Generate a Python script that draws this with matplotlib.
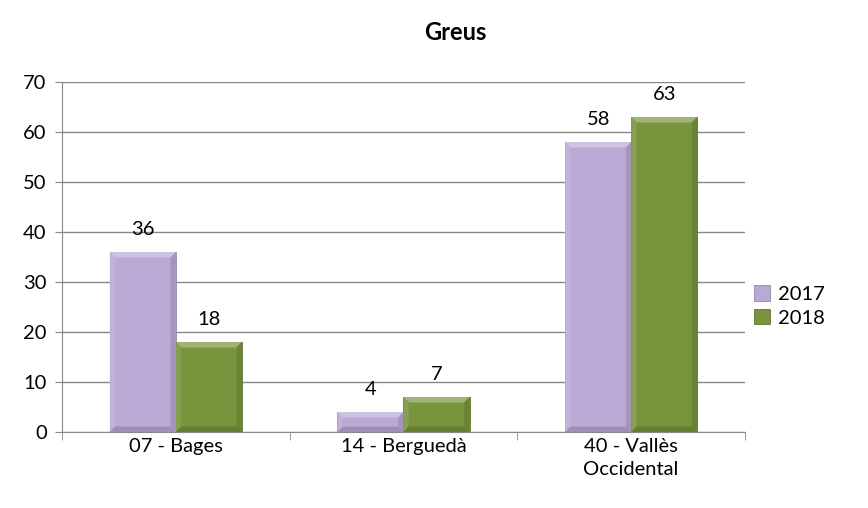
import numpy as np
import matplotlib.pyplot as plt
from matplotlib.patches import Polygon
from matplotlib.colors import to_rgb

categories = ["07 - Bages", "14 - Berguedà", "40 - Vallès\nOccidental"]
years = ["2017", "2018"]
vals_2017 = [36, 4, 58]
vals_2018 = [18, 7, 63]

colors = ["#baa9d5", "#78943c"]

plt.rcParams['font.family'] = ['Lato', 'DejaVu Sans']


def shade(c, f):
    r = np.array(to_rgb(c))
    if f > 0:
        return tuple(r + (1 - r) * f)
    return tuple(r * (1 + f))


def bevel(ax, bar, col):
    # light top / left, dark bottom / right edges like the office bevel look
    x0, y0 = bar.get_x(), bar.get_y()
    w, h = bar.get_width(), bar.get_height()
    x1, y1 = x0 + w, y0 + h
    dx = w * 0.08
    dy = min(1.1, h * 0.3)
    pieces = [
        ([(x0, y1), (x1, y1), (x1 - dx, y1 - dy), (x0 + dx, y1 - dy)], shade(col, 0.3)),
        ([(x0, y0), (x0, y1), (x0 + dx, y1 - dy), (x0 + dx, y0 + dy)], shade(col, 0.1)),
        ([(x1, y0), (x1, y1), (x1 - dx, y1 - dy), (x1 - dx, y0 + dy)], shade(col, -0.12)),
        ([(x0, y0), (x1, y0), (x1 - dx, y0 + dy), (x0 + dx, y0 + dy)], shade(col, -0.15)),
    ]
    for pts, c in pieces:
        ax.add_patch(Polygon(pts, closed=True, facecolor=c, edgecolor='none', zorder=3))


fig = plt.figure(figsize=(8.68, 5.08), dpi=100)
ax = fig.add_axes([62 / 868, 1 - 432 / 508, (745 - 62) / 868, (432 - 82) / 508])

x = np.arange(len(categories))
w = 0.29
b1 = ax.bar(x - w / 2, vals_2017, w, color=colors[0], label=years[0], zorder=2,
            edgecolor=shade(colors[0], -0.2), linewidth=0.6)
b2 = ax.bar(x + w / 2, vals_2018, w, color=colors[1], label=years[1], zorder=2,
            edgecolor=shade(colors[1], -0.2), linewidth=0.6)
for bars, col in [(b1, colors[0]), (b2, colors[1])]:
    for bar in bars:
        bevel(ax, bar, col)
        ax.text(bar.get_x() + bar.get_width() / 2, bar.get_height() + 2.8,
                str(int(bar.get_height())), ha='center', va='bottom', fontsize=14.5)

ax.set_xlim(-0.5, 2.5)
ax.set_ylim(0, 70)
ax.set_yticks(range(0, 71, 10))
ax.set_xticks(x)
ax.set_xticklabels(categories, fontsize=14.5, linespacing=1.45)
ax.tick_params(axis='y', labelsize=14.5, length=5, color='#888888', pad=6)
ax.set_xticks([-0.5, 0.5, 1.5, 2.5], minor=True)
ax.tick_params(axis='x', which='major', length=0, pad=4)
ax.tick_params(axis='x', which='minor', length=6, color='#888888')
ax.grid(axis='y', color='#888888', linewidth=1, zorder=0)
ax.set_axisbelow(True)
for s in ['top', 'right']:
    ax.spines[s].set_visible(False)
for s in ['left', 'bottom']:
    ax.spines[s].set_color('#888888')

leg = ax.legend(loc='center left', bbox_to_anchor=(1.0, 0.36), frameon=False,
                fontsize=14.5, handlelength=0.8, handleheight=0.8, handletextpad=0.4,
                labelspacing=0.3, borderaxespad=0.05)

fig.text(455 / 868, 1 - 32 / 508, "Greus", ha='center', va='center',
         fontsize=17, fontweight='bold')

fig.savefig("out.png", dpi=100)
